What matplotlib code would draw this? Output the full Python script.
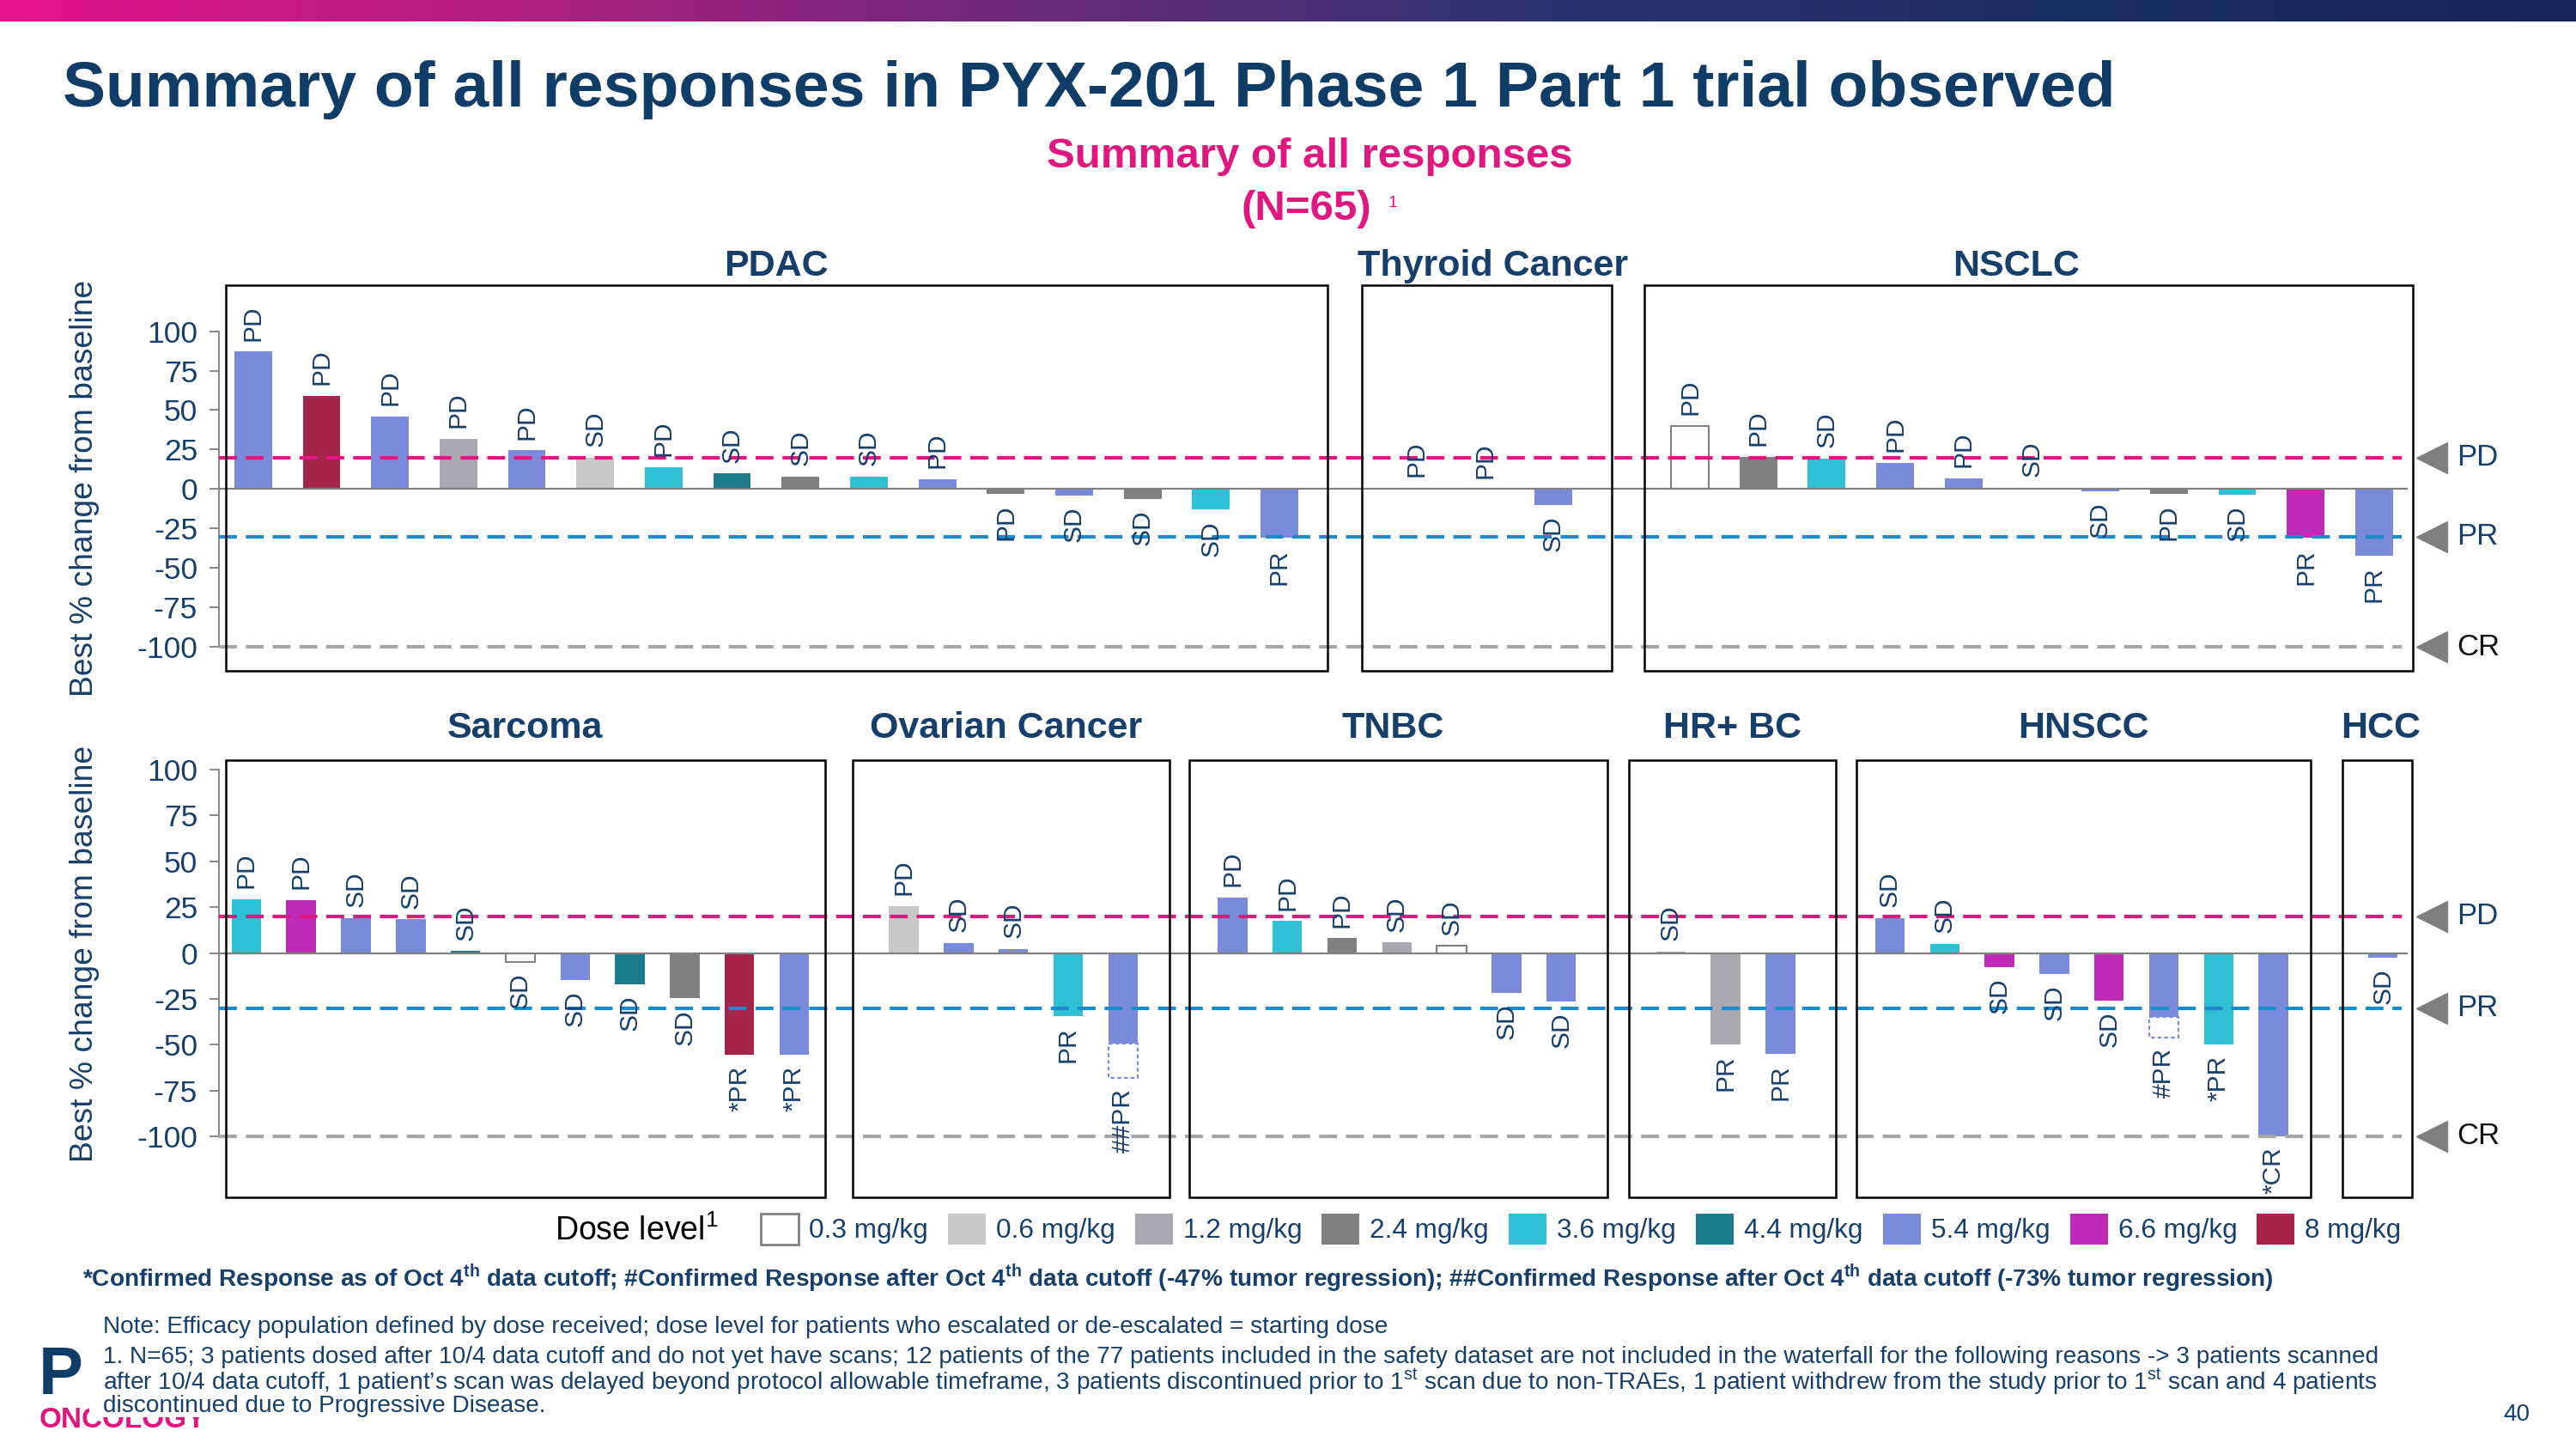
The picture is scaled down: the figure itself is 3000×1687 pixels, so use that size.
import numpy as np
import matplotlib
matplotlib.use('Agg')
import matplotlib.pyplot as plt
import matplotlib.transforms as mtransforms
from matplotlib import font_manager
from matplotlib.patches import Rectangle
from matplotlib.colors import LinearSegmentedColormap

plt.rcParams['font.family'] = ['Liberation Sans', 'DejaVu Sans']
plt.rcParams['mathtext.fontset'] = 'custom'
plt.rcParams['mathtext.rm'] = 'Liberation Sans'
plt.rcParams['mathtext.bf'] = 'Liberation Sans:bold'
plt.rcParams['axes.unicode_minus'] = False

# bar labels in the slide use a narrow face
_names = {f.name for f in font_manager.fontManager.ttflist}
if 'Liberation Sans Narrow' in _names:
    LABEL_FONT, LABEL_SIZE = ['Liberation Sans Narrow', 'Liberation Sans'], 22.5
else:
    LABEL_FONT, LABEL_SIZE = ['Liberation Sans', 'DejaVu Sans'], 21.5

NAVY = '#173f6b'
MAGENTA = '#e0177f'
nan = np.nan

# dose levels (index used in the *_dose lists below)
doses = ['0.3 mg/kg', '0.6 mg/kg', '1.2 mg/kg', '2.4 mg/kg', '3.6 mg/kg',
         '4.4 mg/kg', '5.4 mg/kg', '6.6 mg/kg', '8 mg/kg']
dose_colors = ['white', '#c8c8c8', '#a9a8b3', '#808080', '#2fc0d6',
               '#1c7a8a', '#7b8bdc', '#bf2ab6', '#a4244b']

# ---- top row ----
pdac_change = [87, 59, 46, 32, 24.5, 20, 14, 10, 8, 8, 6.5, -3, -4, -6, -13, -31]
pdac_resp = ['PD', 'PD', 'PD', 'PD', 'PD', 'SD', 'PD', 'SD', 'SD', 'SD', 'PD',
             'PD', 'SD', 'SD', 'SD', 'PR']
pdac_dose = [6, 8, 6, 2, 6, 1, 4, 5, 3, 4, 6, 3, 6, 3, 4, 6]

thyroid_change = [0.8, 0, -10]
thyroid_resp = ['PD', 'PD', 'SD']
thyroid_dose = [1, 6, 6]

nsclc_change = [40, 20.5, 19.3, 16.6, 7, 1, -1.3, -3, -3.6, -31, -42]
nsclc_resp = ['PD', 'PD', 'SD', 'PD', 'PD', 'SD', 'SD', 'PD', 'SD', 'PR', 'PR']
nsclc_dose = [0, 3, 4, 6, 6, 6, 6, 3, 4, 7, 6]

# ---- bottom row ----
sarcoma_change = [29.5, 29, 19, 18.5, 1, -4.7, -14.6, -17.2, -24.8, -55.7, -55.7]
sarcoma_resp = ['PD', 'PD', 'SD', 'SD', 'SD', 'SD', 'SD', 'SD', 'SD', '*PR', '*PR']
sarcoma_dose = [4, 7, 6, 6, 5, 0, 6, 5, 3, 8, 6]

ovarian_change = [25.7, 5.4, 2.3, -34.5, -49.3]
ovarian_later = [nan, nan, nan, nan, -68]
ovarian_resp = ['PD', 'SD', 'SD', 'PR', '##PR']
ovarian_dose = [1, 6, 6, 4, 6]

tnbc_change = [30.3, 17.5, 8.1, 5.7, 3.8, -21.7, -26.5]
tnbc_resp = ['PD', 'PD', 'PD', 'SD', 'SD', 'SD', 'SD']
tnbc_dose = [6, 4, 3, 2, 0, 6, 6]

hrbc_change = [0.9, -50, -55]
hrbc_resp = ['SD', 'PR', 'PR']
hrbc_dose = [2, 2, 6]

hnscc_change = [19, 5, -7.8, -11.3, -26, -35, -50, -100]
hnscc_later = [nan, nan, nan, nan, nan, -46, nan, nan]
hnscc_resp = ['SD', 'SD', 'SD', 'SD', 'SD', '#PR', '*PR', '*CR']
hnscc_dose = [6, 4, 7, 6, 7, 6, 4, 6]

hcc_change = [-2.4]
hcc_resp = ['SD']
hcc_dose = [6]

top_groups = [
    ('PDAC', pdac_change, None, pdac_resp, pdac_dose),
    ('Thyroid Cancer', thyroid_change, None, thyroid_resp, thyroid_dose),
    ('NSCLC', nsclc_change, None, nsclc_resp, nsclc_dose),
]
bottom_groups = [
    ('Sarcoma', sarcoma_change, None, sarcoma_resp, sarcoma_dose),
    ('Ovarian Cancer', ovarian_change, ovarian_later, ovarian_resp, ovarian_dose),
    ('TNBC', tnbc_change, None, tnbc_resp, tnbc_dose),
    ('HR+ BC', hrbc_change, None, hrbc_resp, hrbc_dose),
    ('HNSCC', hnscc_change, hnscc_later, hnscc_resp, hnscc_dose),
    ('HCC', hcc_change, None, hcc_resp, hcc_dose),
]

# box padding (left, right) around each group and title shift, in bar slots
top_pads = [(0.40, 0.70, 0.0), (0.79, 0.86, 0.08), (0.66, 0.57, -0.19)]
bottom_pads = [(0.38, 0.56, 0.0), (0.93, 0.85, -0.09), (0.79, 0.84, -0.09),
               (0.76, 1.01, 0.0), (0.61, 0.68, 0.0), (0.74, 0.53, 0.06)]

W, H = 3000, 1687
fig = plt.figure(figsize=(30, 16.87), dpi=100)
fig.patch.set_facecolor('white')


def draw_row(ax, groups, pads, ylim, title_y, bar_w):
    start = 0
    for (name, change, later, resp, dose), (pl, pr, tshift) in zip(groups, pads):
        n = len(change)
        x = np.arange(start, start + n)
        cols = [dose_colors[d] for d in dose]
        edges = ['#808080' if d == 0 else cols[i] for i, d in enumerate(dose)]
        lws = [1.5 if d == 0 else 0 for d in dose]
        ax.bar(x, change, width=bar_w, color=cols, edgecolor=edges,
               linewidth=lws, zorder=3)
        ends = list(change)
        if later is not None:
            for i, v in enumerate(later):
                if not np.isnan(v):
                    ax.bar(x[i], v - change[i], bottom=change[i], width=bar_w,
                           fill=False, edgecolor=dose_colors[dose[i]],
                           linestyle=(0, (2, 1.5)), linewidth=1.6, zorder=3)
                    ends[i] = v
        for i in range(n):
            up = change[i] >= 0
            ax.annotate(resp[i], (x[i], change[i] if up else ends[i]),
                        xytext=(0, 9 if up else -9), textcoords='offset points',
                        rotation=90, ha='center', va='bottom' if up else 'top',
                        fontsize=LABEL_SIZE, family=LABEL_FONT, color=NAVY,
                        zorder=6)
        x0 = start - pl
        x1 = start + n - 1 + pr
        ax.add_patch(Rectangle((x0, ylim[0]), x1 - x0, ylim[1] - ylim[0],
                               fill=False, edgecolor='black', linewidth=1.8,
                               clip_on=False, zorder=5))
        tr = mtransforms.blended_transform_factory(ax.transData, ax.transAxes)
        ax.text((x0 + x1) / 2 + tshift, title_y, name, transform=tr,
                ha='center', va='center', fontsize=31, fontweight='bold',
                color=NAVY)
        start += n + 1


def style_axis(ax, ylim, xright):
    ax.set_xlim(-0.5, xright)
    ax.set_ylim(*ylim)
    ax.set_xticks([])
    ax.set_yticks(range(-100, 101, 25))
    ax.tick_params(axis='y', length=8, width=1.5, color='#8c8c8c',
                   labelsize=25.5, labelcolor=NAVY, pad=10)
    for s in ['top', 'right', 'bottom']:
        ax.spines[s].set_visible(False)
    ax.spines['left'].set_color('#8c8c8c')
    ax.spines['left'].set_linewidth(1.5)
    ax.spines['left'].set_bounds(-100, 100)
    ax.axhline(0, xmax=0.997, color='#808080', linewidth=1.6, zorder=4)
    ax.axhline(20, xmax=0.9945, color=MAGENTA, linewidth=3,
               linestyle=(0, (5, 2.5)), zorder=4)
    ax.axhline(-30, xmax=0.9945, color='#1b8cc8', linewidth=3,
               linestyle=(0, (5, 2.5)), zorder=4)
    ax.axhline(-100, xmax=0.9945, color='#a6a6a6', linewidth=3,
               linestyle=(0, (5, 2.5)), zorder=4)
    bl = mtransforms.blended_transform_factory(ax.transAxes, ax.transData)
    for yv, lab, c in [(20, 'PD', NAVY), (-30, 'PR', NAVY), (-100, 'CR', '#111111')]:
        ax.plot([1.0082], [yv], marker='<', markersize=26, color='#7f7f7f',
                transform=bl, clip_on=False, zorder=5)
        ax.text(1.0196, yv, lab, transform=bl, ha='left', va='center',
                fontsize=25, color=c)


ax_l, ax_r = 255, 2811
top_ylim = (-115, 129.1)
bot_ylim = (-133.3, 105.2)

ax_top = fig.add_axes([ax_l / W, 1 - 781 / H, (ax_r - ax_l) / W, 449 / H])
ax_top.patch.set_alpha(0)
draw_row(ax_top, top_groups, top_pads, top_ylim, 1.049, 0.55)
style_axis(ax_top, top_ylim, 31.58)

ax_bot = fig.add_axes([ax_l / W, 1 - 1394 / H, (ax_r - ax_l) / W, 509 / H])
ax_bot.patch.set_alpha(0)
draw_row(ax_bot, bottom_groups, bottom_pads, bot_ylim, 1.0727, 0.54)
style_axis(ax_bot, bot_ylim, 39.56)

# overlay in pixel coordinates for slide furniture
ov = fig.add_axes([0, 0, 1, 1], zorder=10)
ov.patch.set_alpha(0)
grad_cmap = LinearSegmentedColormap.from_list(
    'band', ['#e4118c', '#b01f80', '#6a2a7a', '#2c3470', '#1a2d62', '#13245a'])
ov.imshow(np.linspace(0, 1, 512).reshape(1, -1), extent=(0, W, 25, 0),
          aspect='auto', cmap=grad_cmap, zorder=1)
ov.set_xlim(0, W)
ov.set_ylim(H, 0)
ov.axis('off')

ov.text(73, 104, 'Summary of all responses in PYX-201 Phase 1 Part 1 trial observed',
        ha='left', va='center', fontsize=54, fontweight='bold', color='#103c68')
ov.text(1525, 182, 'Summary of all responses', ha='center', va='center',
        fontsize=35.5, fontweight='bold', color=MAGENTA)
ov.text(1521, 243, '(N=65)', ha='center', va='center', fontsize=35.5,
        fontweight='bold', color=MAGENTA)
ov.text(1617, 236, '1', ha='left', va='center', fontsize=14, color=MAGENTA)

ov.text(99, 568, 'Best % change from baseline', rotation=90, ha='center',
        va='center', fontsize=26.8, color=NAVY)
ov.text(99, 1110, 'Best % change from baseline', rotation=90, ha='center',
        va='center', fontsize=26.8, color=NAVY)

# legend
ov.text(646, 1433, r'Dose level$^{1}$', ha='left', va='center', fontsize=27,
        color='black')
for i, (lab, c) in enumerate(zip(doses, dose_colors)):
    xs = 886 + 217.8 * i
    ov.add_patch(Rectangle((xs, 1413), 44, 36, facecolor=c,
                           edgecolor='#808080' if i == 0 else c,
                           linewidth=2 if i == 0 else 0, zorder=2))
    ov.text(xs + 56, 1433, lab, ha='left', va='center', fontsize=22.7,
            color=NAVY)

ov.text(96, 1488,
        r'*Confirmed Response as of Oct 4$^{\mathbf{th}}$ data cutoff; '
        r'#Confirmed Response after Oct 4$^{\mathbf{th}}$ data cutoff (-47% tumor regression); '
        r'##Confirmed Response after Oct 4$^{\mathbf{th}}$ data cutoff (-73% tumor regression)',
        ha='left', va='center', fontsize=20.2, fontweight='bold', color=NAVY)

# logo, mostly hidden behind the white note box
ov.text(45, 1623, 'P', ha='left', va='baseline', fontsize=56,
        fontweight='bold', color='#103c68', zorder=1)
ov.text(46, 1662, 'ONCOLOGY', ha='left', va='baseline', fontsize=24,
        fontweight='bold', color=MAGENTA, zorder=1)
ov.add_patch(Rectangle((104, 1563), 2690, 87, facecolor='white',
                       edgecolor='none', zorder=2))

notes = [
    'Note: Efficacy population defined by dose received; dose level for patients '
    'who escalated or de-escalated = starting dose',
    '1. N=65; 3 patients dosed after 10/4 data cutoff and do not yet have scans; '
    '12 patients of the 77 patients included in the safety dataset are not included '
    'in the waterfall for the following reasons -> 3 patients scanned',
    'after 10/4 data cutoff, 1 patient\u2019s scan was delayed beyond protocol allowable '
    r'timeframe, 3 patients discontinued prior to 1$^{\rm st}$ scan due to non-TRAEs, '
    r'1 patient withdrew from the study prior to 1$^{\rm st}$ scan and 4 patients',
    'discontinued due to Progressive Disease.',
]
for ny, line in zip([1545, 1580, 1609, 1637], notes):
    ov.text(120, ny, line, ha='left', va='center', fontsize=20.2, color=NAVY,
            zorder=3)

ov.text(2931, 1647, '40', ha='center', va='center', fontsize=20, color=NAVY)

fig.savefig('out.png', dpi=100)
